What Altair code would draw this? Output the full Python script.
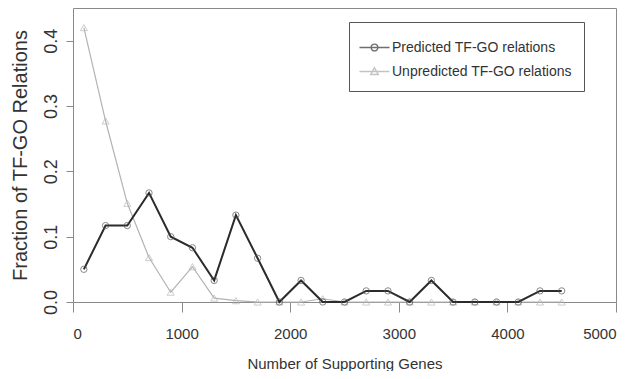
import altair as alt
import pandas as pd

# --- data ---
genes = [100, 300, 500, 700, 900, 1100, 1300, 1500, 1700, 1900, 2100, 2300,
         2500, 2700, 2900, 3100, 3300, 3500, 3700, 3900, 4100, 4300, 4500]
predicted = [0.050, 0.117, 0.117, 0.167, 0.100, 0.083, 0.033, 0.133, 0.067, 0.000,
             0.033, 0.000, 0.000, 0.017, 0.017, 0.000, 0.033, 0.000, 0.000, 0.000,
             0.000, 0.017, 0.017]
unpredicted = [0.420, 0.277, 0.151, 0.068, 0.015, 0.054, 0.006, 0.002, 0.000, 0.000,
               0.000, 0.005, 0.000, 0.000, 0.000, 0.000, 0.000, 0.000, 0.000, 0.000,
               0.000, 0.000, 0.000]
series_names = ["Predicted TF-GO relations", "Unpredicted TF-GO relations"]
x_ticks = [0, 1000, 2000, 3000, 4000, 5000]
y_ticks = [0.0, 0.1, 0.2, 0.3, 0.4]

df = pd.DataFrame({
    "genes": genes * 2,
    "fraction": predicted + unpredicted,
    "series": [series_names[0]] * len(genes) + [series_names[1]] * len(genes),
})

FONT = "Liberation Sans, Arial, sans-serif"

x_enc = alt.X("genes:Q",
              scale=alt.Scale(domain=[0, 5000], nice=False, zero=False),
              axis=alt.Axis(values=x_ticks, format="d", title="Number of Supporting Genes",
                            tickSize=10, labelPadding=14,
                            labelFont=FONT, labelFontSize=15,
                            titleFont=FONT, titleFontSize=15, titleFontWeight="normal",
                            titleY=61, titleBaseline="middle"))
y_enc = alt.Y("fraction:Q",
              scale=alt.Scale(domain=[0, 0.45], nice=False),
              axis=alt.Axis(values=y_ticks, format=".1f", title="Fraction of TF-GO Relations",
                            tickSize=7, labelAngle=-90, labelPadding=6,
                            labelFont=FONT, labelFontSize=18,
                            titleFont=FONT, titleFontSize=20, titleFontWeight="normal",
                            titleX=-53, titleBaseline="middle"))

base = alt.Chart(df)

pred_df = base.transform_filter(alt.datum.series == series_names[0])
unpr_df = base.transform_filter(alt.datum.series == series_names[1])

unpr_line = unpr_df.mark_line(color="#b3b3b3", strokeWidth=1.2).encode(x=x_enc, y=y_enc)
unpr_pts = unpr_df.mark_point(shape="triangle-up", filled=False, size=50,
                              stroke="#b8b8b8", strokeWidth=1).encode(x=x_enc, y=y_enc)
pred_line = pred_df.mark_line(color="#2b2b2b", strokeWidth=2).encode(x=x_enc, y=y_enc)
pred_pts = pred_df.mark_point(shape="circle", filled=False, size=40,
                              stroke="#555555", strokeWidth=1).encode(x=x_enc, y=y_enc)

circle_path = "M-1.2,0H1.2M0.27,0A0.27,0.27,0,1,1,-0.27,0A0.27,0.27,0,1,1,0.27,0"
tri_path = "M-1.2,0H1.2M0,-0.3L0.3,0.24L-0.3,0.24Z"

legend = alt.Legend(title=None, orient="none", legendX=276, legendY=14,
                    strokeColor="#555555", padding=12, rowPadding=3,
                    symbolSize=625, symbolStrokeWidth=1.4, labelOffset=4,
                    labelFont=FONT, labelFontSize=14, labelColor="#333333",
                    labelLimit=400,
                    labelExpr="datum.label + '       '")

legend_layer = base.transform_filter("false").mark_point(filled=False).encode(
    x=x_enc, y=y_enc,
    stroke=alt.Stroke("series:N",
                      scale=alt.Scale(domain=series_names, range=["#333333", "#aaaaaa"]),
                      legend=legend),
    shape=alt.Shape("series:N",
                    scale=alt.Scale(domain=series_names, range=[circle_path, tri_path]),
                    legend=legend),
)

chart = alt.layer(unpr_line, unpr_pts, pred_line, pred_pts, legend_layer).properties(
    width=543, height=294,
    autosize=alt.AutoSizeParams(type="none"),
    padding={"left": 65, "top": 0, "right": 9, "bottom": 69},
    background="white",
).configure_view(stroke="#8a8a8a", strokeWidth=1).configure_axis(
    domain=False, grid=False, tickColor="#8a8a8a", tickWidth=1,
    labelColor="#333333", titleColor="#333333",
)

chart.save("out.html", embed_options={"renderer": "svg", "actions": False})
